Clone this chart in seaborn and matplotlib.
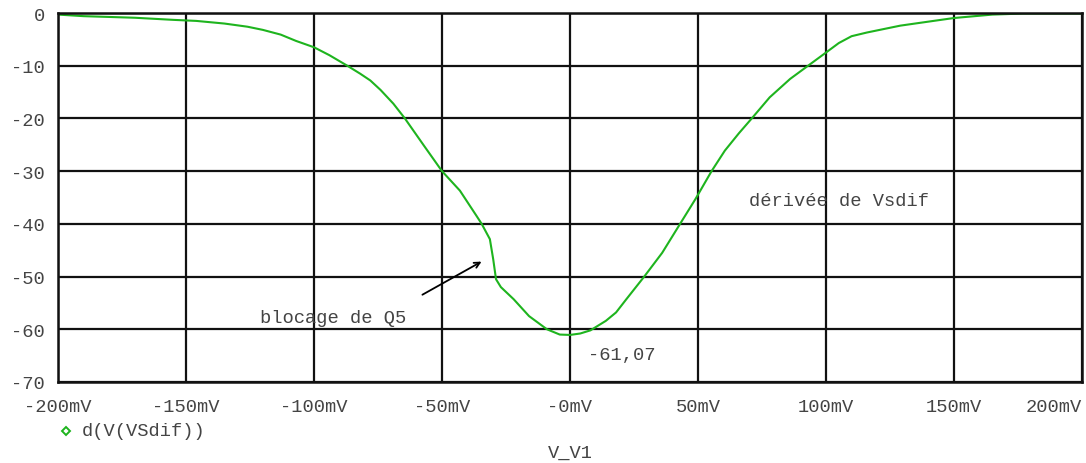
import numpy as np
import pandas as pd
import matplotlib
matplotlib.use("Agg")
import matplotlib.pyplot as plt
from matplotlib.lines import Line2D
import seaborn as sns

# -----------------------------------
# data
# -----------------------------------
v_v1 = [-200, -190, -170, -155, -146, -135, -126, -120, -113, -107, -100,
        -94, -87, -82, -78, -74, -69, -64.5, -57, -50, -43, -36.5, -34.5,
        -31.3, -30, -28.9, -27, -22, -16, -9, -4,
        0, 4, 8, 14, 18, 22, 29, 36, 43, 49,
        55.3, 60.5, 66, 71, 78, 86, 93, 100, 105, 110, 116, 129,
        142, 150, 165, 177, 200]
d_vsdif = [-0.3, -0.6, -0.9, -1.3, -1.5, -2.0, -2.6, -3.2, -4.1, -5.3, -6.5,
           -8.0, -10.0, -11.5, -12.8, -14.6, -17.2, -20.0, -25.2, -30.0, -33.7, -38.5, -40.0,
           -42.9, -46.7, -50.5, -52.0, -54.3, -57.5, -60.0, -61.0,
           -61.07, -60.8, -60.2, -58.4, -56.8, -54.3, -50.0, -45.5, -40.0, -35.3,
           -30.0, -26.1, -22.8, -20.0, -16.0, -12.5, -10.0, -7.5, -5.7, -4.4, -3.7, -2.4,
           -1.5, -0.95, -0.3, -0.1, -0.1]

x_ticks = [-200, -150, -100, -50, 0, 50, 100, 150, 200]
x_tick_labels = ["-200mV", "-150mV", "-100mV", "-50mV", "-0mV",
                 "50mV", "100mV", "150mV", "200mV"]
y_ticks = [0, -10, -20, -30, -40, -50, -60, -70]
y_tick_labels = ["0", "-10", "-20", "-30", "-40", "-50", "-60", "-70"]

df = pd.DataFrame({"V_V1": v_v1, "d": d_vsdif})

# -----------------------------------
# style
# -----------------------------------
sns.set_style("white")
plt.rcParams["font.family"] = ["Liberation Mono", "DejaVu Sans Mono"]
plt.rcParams["axes.unicode_minus"] = False

green = "#1eb41e"
txt = "#444444"
fs = 13.5

fig = plt.figure(figsize=(10.86, 4.64), dpi=100)
ax = fig.add_axes([58 / 1086, 1 - 383 / 464, 1024 / 1086, 369 / 464])

sns.lineplot(data=df, x="V_V1", y="d", ax=ax, color=green, linewidth=1.5)

ax.set_xlim(-200, 200)
ax.set_ylim(-70, 0)
ax.set_xticks(x_ticks)
ax.set_xticklabels(x_tick_labels)
ax.set_yticks(y_ticks)
ax.set_yticklabels(y_tick_labels)
ax.tick_params(axis="both", colors="black", labelcolor=txt, labelsize=fs,
               length=6.5, width=1.8, direction="out")
ax.tick_params(axis="x", pad=5)
ax.tick_params(axis="y", pad=3)
# last label sits left of its tick, like the probe window
ax.get_xticklabels()[-1].set_horizontalalignment("right")
ax.get_xticklabels()[-1].set_x(200)
ax.grid(True, color="#111111", linewidth=1.6)
for s in ["top", "left", "bottom", "right"]:
    ax.spines[s].set_color("#111111")
    ax.spines[s].set_linewidth(1.8)
ax.set_xlabel("")
ax.set_ylabel("")

# annotations
ax.text(70, -35.5, "dérivée de Vsdif", fontsize=fs, color=txt, va="center", ha="left")
ax.text(-121, -57.7, "blocage de Q5", fontsize=fs, color=txt, va="center", ha="left")
ax.text(7, -64.7, "-61,07", fontsize=fs, color=txt, va="center", ha="left")
ax.annotate("", xy=(-33.6, -46.9), xytext=(-58.6, -53.7),
            arrowprops=dict(arrowstyle="->", color="black", lw=1.3))

# legend entry and x axis title as in the probe window
fig.add_artist(Line2D([66 / 1086], [1 - 432 / 464], marker="D", markersize=4.5,
                      markerfacecolor="white", markeredgecolor=green,
                      markeredgewidth=1.4, linestyle="none"))
fig.text(82 / 1086, 1 - 432 / 464, "d(V(VSdif))", fontsize=fs, color=txt,
         va="center", ha="left")
fig.text(570 / 1086, 1 - 453 / 464, "V_V1", fontsize=fs, color=txt,
         va="center", ha="center")

fig.savefig("out.png", dpi=100)
